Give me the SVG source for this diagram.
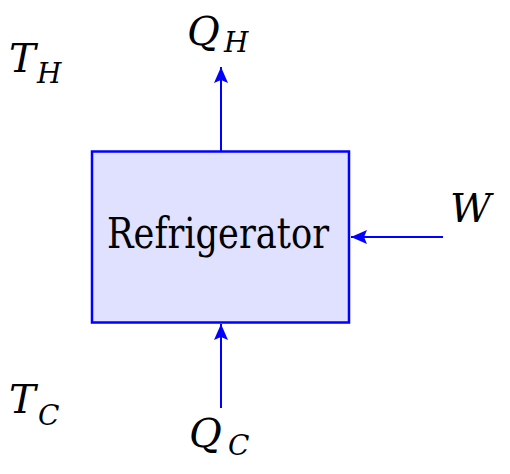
<svg xmlns="http://www.w3.org/2000/svg" width="510" height="474" viewBox="0 0 510 474">
<style>
.m{font-style:italic;fill:#000}
.big{font-size:40px}
.sub{font-size:28px}
.lbl{font-size:42px;fill:#000}
.conn{stroke:#0000ff;stroke-width:2;fill:none}
</style>
<defs>
<marker id="ah" markerUnits="userSpaceOnUse" markerWidth="18" markerHeight="14" refX="16" refY="7" orient="auto">
<path d="M0,0 L16,7 L0,14 L3,7 Z" fill="#0000ff"/>
</marker>
</defs>
<rect width="510" height="474" fill="#fff"/>
<g font-family="DejaVu Serif, serif">
<g id="refrigerator">
<rect x="92" y="151.5" width="257" height="171" fill="#e0e0ff" stroke="#0000ff" stroke-width="2.5"/>
<text class="lbl" x="107" y="248" textLength="222" lengthAdjust="spacingAndGlyphs">Refrigerator</text>
</g>
<g id="connectors">
<line class="conn" x1="221" y1="151" x2="221" y2="67" marker-end="url(#ah)"/>
<line class="conn" x1="221" y1="408" x2="221" y2="324" marker-end="url(#ah)"/>
<line class="conn" x1="443" y1="237" x2="351" y2="237" marker-end="url(#ah)"/>
</g>
<g id="QH"><text class="m big" x="187" y="45">Q</text><text class="m sub" x="224" y="52">H</text></g>
<g id="QC"><text class="m big" x="189" y="447">Q</text><text class="m sub" x="228" y="455">C</text></g>
<g id="TH"><text class="m big" x="9" y="72">T</text><text class="m sub" x="37" y="83">H</text></g>
<g id="TC"><text class="m big" x="9" y="413">T</text><text class="m sub" x="38" y="425">C</text></g>
<g id="W"><text class="m big" x="450" y="222">W</text></g>
</g>
</svg>
